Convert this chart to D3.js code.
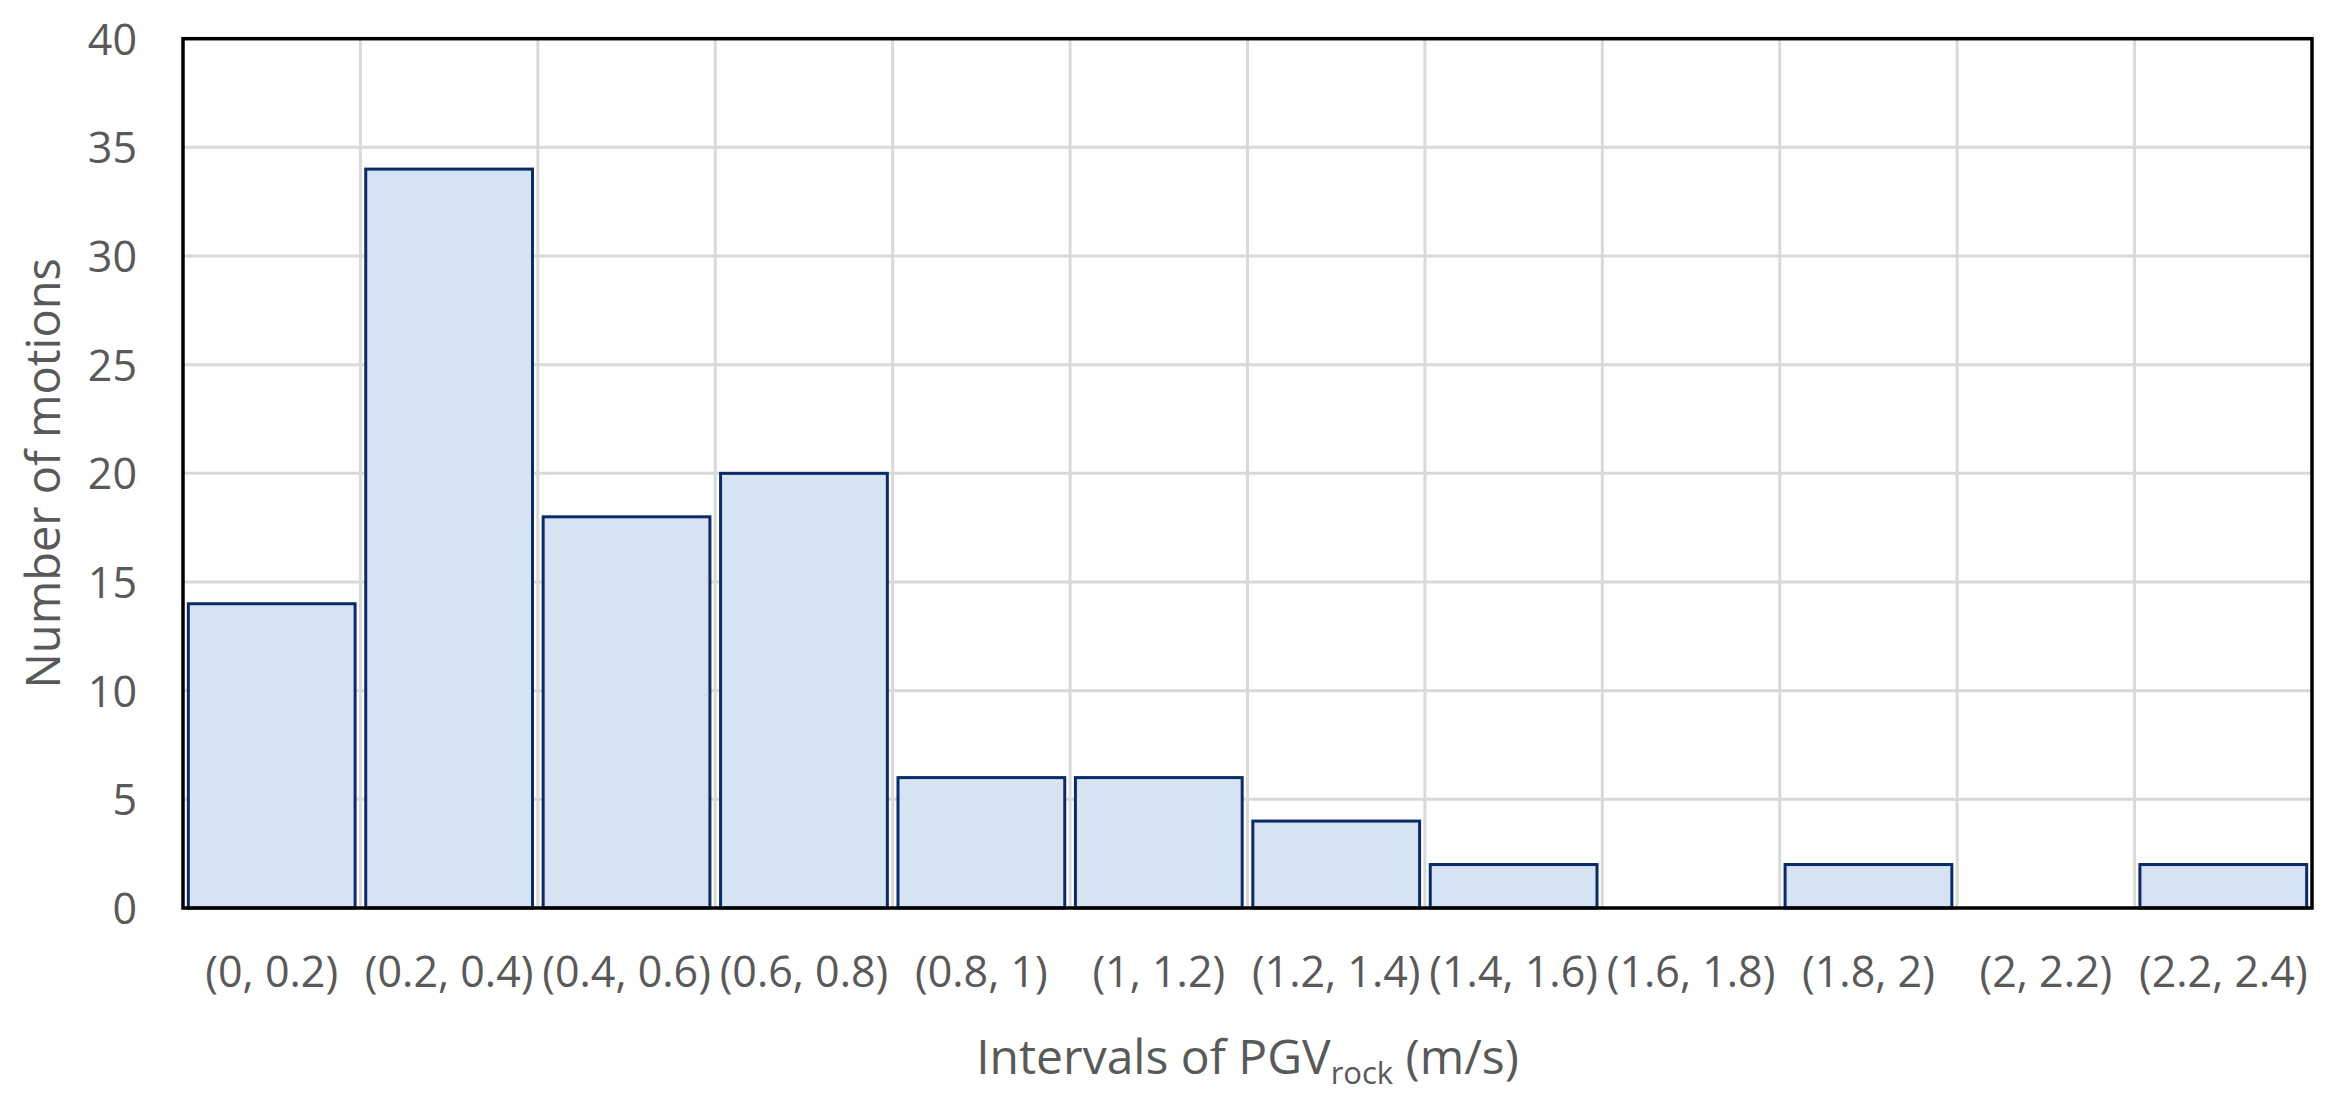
<!DOCTYPE html>
<html>
<head>
<meta charset="utf-8">
<script src="https://cdn.jsdelivr.net/npm/d3@7"></script>
<style>
    body { margin: 0; background: #fff; }
    text { font-family: "Open Sans", "Noto Sans", sans-serif; fill: #595959; }
</style>
</head>
<body>
<svg id="chart" width="2344" height="1101"></svg>
<script>
// data
var intervals = ["(0, 0.2)", "(0.2, 0.4)", "(0.4, 0.6)", "(0.6, 0.8)", "(0.8, 1)", "(1, 1.2)",
                 "(1.2, 1.4)", "(1.4, 1.6)", "(1.6, 1.8)", "(1.8, 2)", "(2, 2.2)", "(2.2, 2.4)"];
var motions = [14, 34, 18, 20, 6, 6, 4, 2, 0, 2, 0, 2];
var yTicks = [0, 5, 10, 15, 20, 25, 30, 35, 40];

var svg = d3.select("#chart");

var plotLeft = 183, plotRight = 2312, plotTop = 38.7, plotBottom = 908;

var xScale = d3.scaleBand()
    .domain(intervals)
    .range([plotLeft, plotRight])
    .paddingInner(0.06)
    .paddingOuter(0.03);

var yScale = d3.scaleLinear()
    .domain([0, 40])
    .range([plotBottom, plotTop]);

var halfGap = (xScale.step() - xScale.bandwidth()) / 2;

// grid
var grid = svg.append("g");
grid.selectAll(".hgrid")
    .data(yTicks.slice(1, -1))
    .enter().append("line")
    .attr("x1", plotLeft).attr("x2", plotRight)
    .attr("y1", function (d) { return yScale(d); })
    .attr("y2", function (d) { return yScale(d); })
    .attr("stroke", "#d9d9d9")
    .attr("stroke-width", 3);

grid.selectAll(".vgrid")
    .data(intervals.slice(1))
    .enter().append("line")
    .attr("x1", function (d) { return xScale(d) - halfGap; })
    .attr("x2", function (d) { return xScale(d) - halfGap; })
    .attr("y1", plotTop).attr("y2", plotBottom)
    .attr("stroke", "#d9d9d9")
    .attr("stroke-width", 3);

// bars
svg.selectAll(".bar")
    .data(intervals)
    .enter().append("rect")
    .attr("class", "bar")
    .attr("x", function (d) { return xScale(d); })
    .attr("y", function (d, i) { return yScale(motions[i]); })
    .attr("width", xScale.bandwidth())
    .attr("height", function (d, i) { return plotBottom - yScale(motions[i]); })
    .attr("fill", "#d6e3f3")
    .attr("stroke", "#0b2a68")
    .attr("stroke-width", 3)
    .style("display", function (d, i) { return motions[i] > 0 ? null : "none"; });

// frame
svg.append("rect")
    .attr("x", plotLeft).attr("y", plotTop)
    .attr("width", plotRight - plotLeft).attr("height", plotBottom - plotTop)
    .attr("fill", "none")
    .attr("stroke", "#000")
    .attr("stroke-width", 3.5);

// y axis labels
var yAxis = svg.append("g")
    .attr("transform", "translate(" + (plotLeft - 46) + ",0)")
    .call(d3.axisLeft(yScale).tickValues(yTicks).tickSize(0).tickPadding(0));
yAxis.select(".domain").remove();
yAxis.selectAll("text")
    .attr("font-size", "43px")
    .attr("font-family", null)
    .attr("dy", "0.36em");

// x axis labels
var xAxis = svg.append("g")
    .attr("transform", "translate(0," + plotBottom + ")")
    .call(d3.axisBottom(xScale).tickSize(0).tickPadding(0));
xAxis.select(".domain").remove();
xAxis.selectAll("text")
    .attr("font-size", "43px")
    .attr("font-family", null)
    .attr("y", 79)
    .attr("dy", null);

// axis titles
svg.append("text")
    .attr("transform", "translate(60," + ((plotTop + plotBottom) / 2) + ") rotate(-90)")
    .attr("text-anchor", "middle")
    .attr("font-size", "47px")
    .text("Number of motions");

var xt = svg.append("text")
    .attr("x", (plotLeft + plotRight) / 2)
    .attr("y", 1074)
    .attr("text-anchor", "middle")
    .attr("font-size", "48px");
xt.append("tspan").text("Intervals of PGV");
xt.append("tspan").attr("font-size", "31px").attr("dy", 10).text("rock");
xt.append("tspan").attr("dy", -10).text(" (m/s)");
</script>
</body>
</html>
